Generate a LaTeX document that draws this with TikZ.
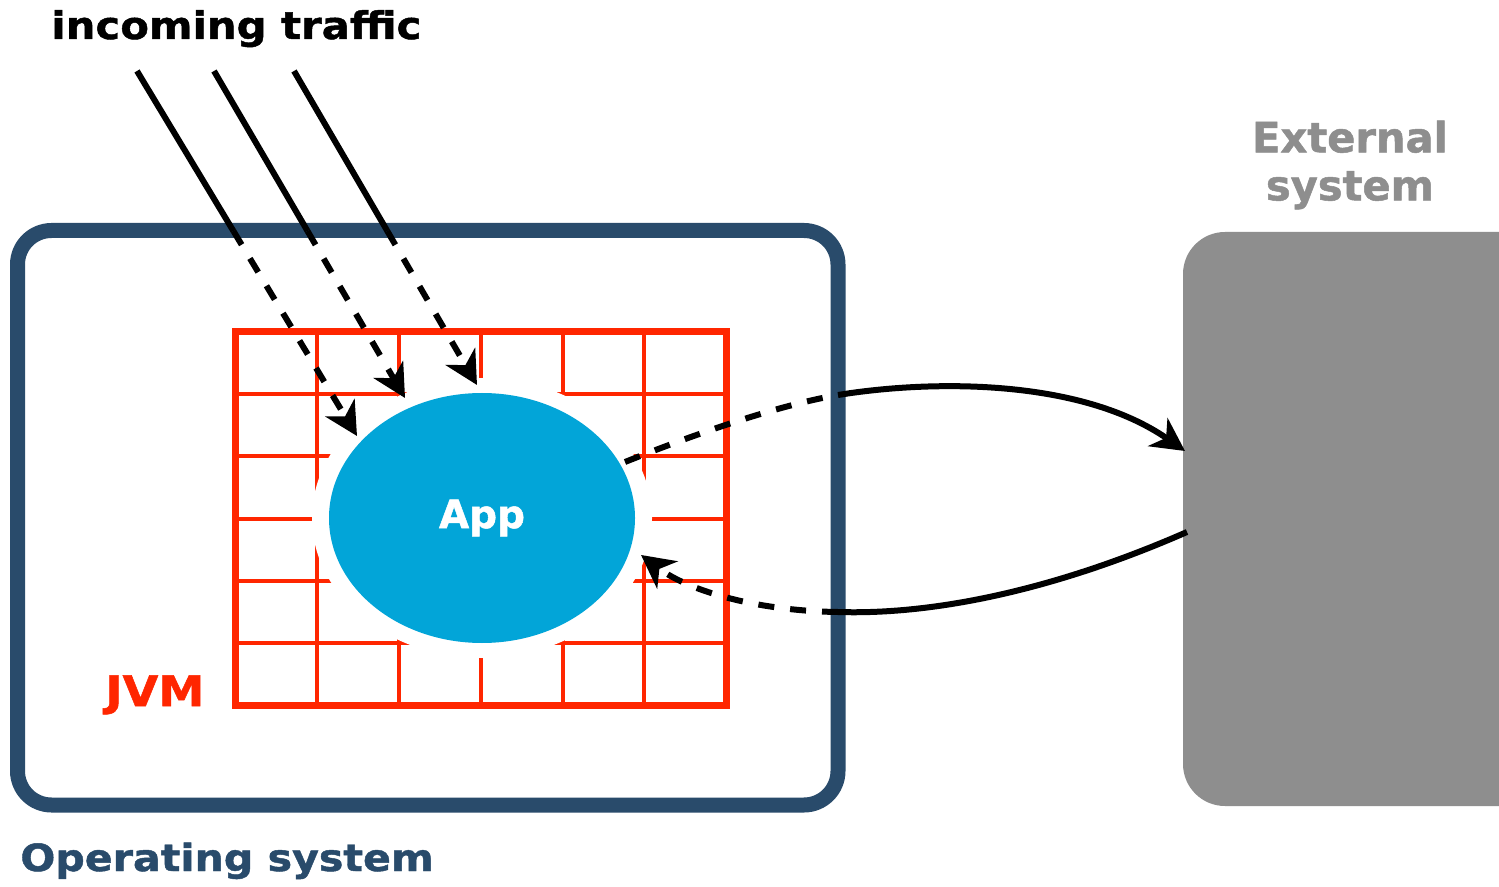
\documentclass[tikz,border=0pt]{standalone}
\usepackage{fontspec}
\setmainfont{DejaVu Sans}
\newfontfamily\widebold[FakeStretch=1.1, FakeBold=1.2]{DejaVu Sans Bold}
\newfontfamily\heavybold[FakeBold=1.2]{DejaVu Sans Bold}
\usetikzlibrary{arrows.meta,shapes.geometric}
\definecolor{osblue}{HTML}{294B6B}
\definecolor{jvmred}{HTML}{FF2600}
\definecolor{appblue}{HTML}{02A5D8}
\definecolor{extgrey}{HTML}{8E8E8E}
\tikzset{
  osbox/.style={draw=osblue, line width=7.5pt, rounded corners=17pt},
  extbox/.style={fill=extgrey, rounded corners=21pt},
  gridline/.style={draw=jvmred, line width=2pt},
  gridframe/.style={draw=jvmred, line width=3.5pt},
  halo/.style={ellipse, fill=white, minimum width=170pt, minimum height=140pt, inner sep=0pt},
  appnode/.style={ellipse, fill=appblue, minimum width=153pt, minimum height=125pt, inner sep=0pt, text=white, font=\heavybold\fontsize{19.5}{22}\selectfont},
  solidflow/.style={draw=black, line width=3pt},
  dashflow/.style={draw=black, line width=3pt, dash pattern=on 8pt off 8pt},
  tip/.style={-{Stealth[length=16.5pt, width=17pt, inset=5pt]}},
  lbl/.style={inner sep=0pt},
}
\begin{document}
\begin{tikzpicture}[x=0.5pt, y=-0.5pt]
\useasboundingbox (0,0) rectangle (1499,887);
\clip (0,0) rectangle (1499,887);
\fill[white] (0,0) rectangle (1499,887);

% Operating system box
\draw[osbox] (17.5,230.5) rectangle (838,805);
\node[lbl, text=osblue, anchor=base west, font=\widebold\fontsize{18.7}{22}\selectfont] (oslbl) at (20,871) {Operating system};

% External system
\path[extbox] (1183,232) rectangle (1560,806);
\node[lbl, text=extgrey, align=center, font=\heavybold\fontsize{20.8}{24}\selectfont] (extlbl) at (1350,165) {External\\system};

% JVM grid
\foreach \x in {317.25,399,480.75,562.5,644.25} {\draw[gridline] (\x,332) -- (\x,705.5);}
\foreach \y in {394.25,456.5,518.75,581,643.25} {\draw[gridline] (235.5,\y) -- (726,\y);}
\draw[gridframe] (235.5,332) rectangle (726,705.5);
\node[lbl, text=jvmred, anchor=base west, font=\widebold\fontsize{21}{24}\selectfont] (jvmlbl) at (105,706) {JVM};

% App
\node[halo] (halo) at (482,518) {};
\node[appnode] (app) at (482,518) {App};

% incoming traffic
\node[lbl, text=black, anchor=base west, font=\widebold\fontsize{19}{22}\selectfont] (inlbl) at (51,39) {incoming traffic};
\coordinate (t1a) at (137,71);  \coordinate (t1b) at (233.4,231); \coordinate (t1c) at (357,436);
\coordinate (t2a) at (214,71);  \coordinate (t2b) at (307.5,231); \coordinate (t2c) at (405,398);
\coordinate (t3a) at (294,71);  \coordinate (t3b) at (387.3,231); \coordinate (t3c) at (477,385);
\draw[solidflow] (t1a) -- (t1b);
\draw[solidflow] (t2a) -- (t2b);
\draw[solidflow] (t3a) -- (t3b);
\draw[dashflow, tip] (t1b) -- (t1c);
\draw[dashflow, tip] (t2b) -- (t2c);
\draw[dashflow, tip] (t3b) -- (t3c);

% outgoing call
\coordinate (o1) at (625,462);
\coordinate (o2) at (838,395);
\coordinate (o3) at (1185,451);
\draw[dashflow] (o1) .. controls (700,432) and (780,405) .. (o2);
\draw[solidflow, tip] (o2) .. controls (930,380) and (1080,378) .. (o3);

% response
\coordinate (r1) at (1187,532);
\coordinate (r2) at (838,612);
\coordinate (r3) at (641,555);
\draw[solidflow] (r1) .. controls (1050,592) and (930,615) .. (r2);
\draw[dashflow, tip] (r2) .. controls (760,611) and (690,592) .. (r3);
\end{tikzpicture}
\end{document}
